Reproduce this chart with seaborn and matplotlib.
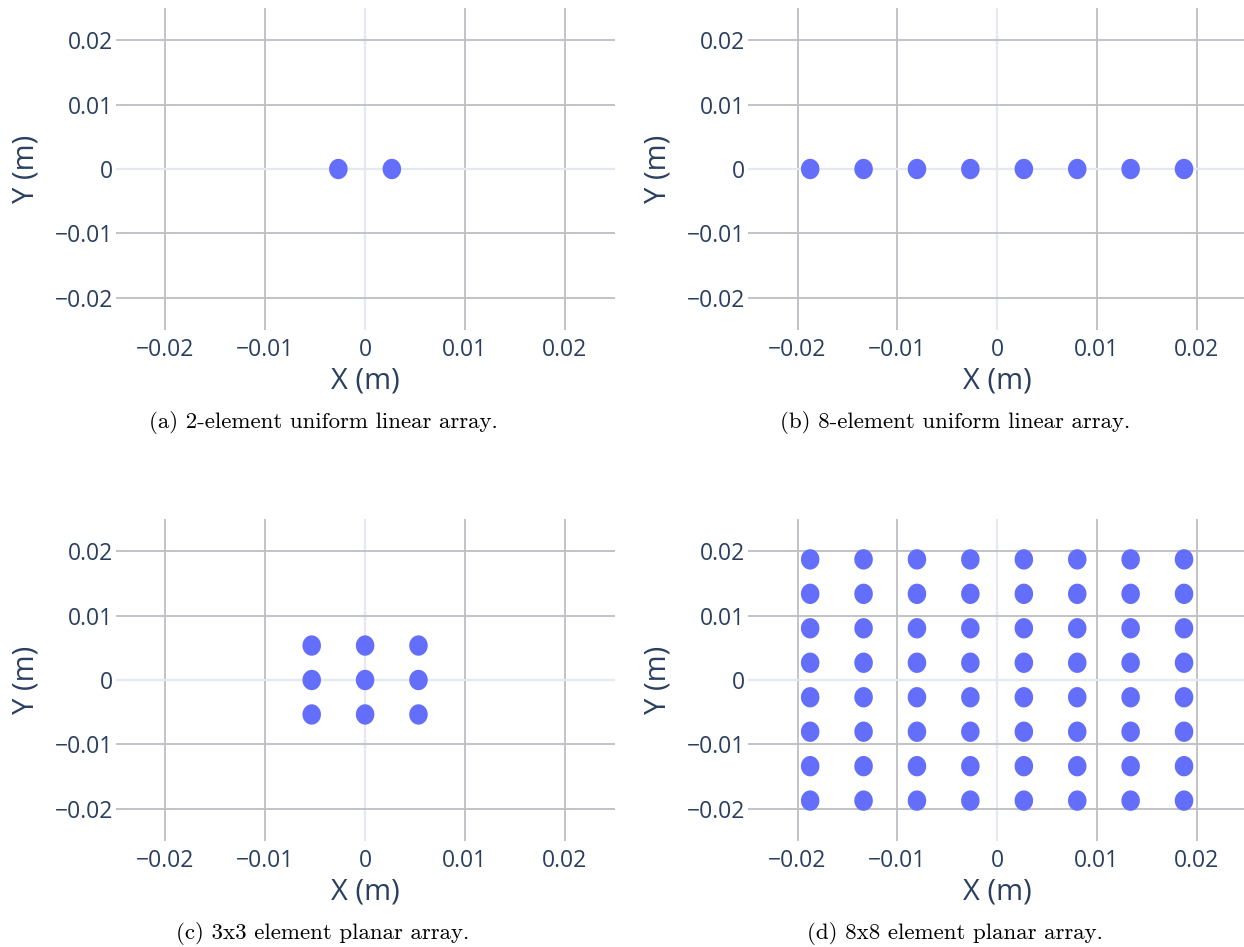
import numpy as np
import matplotlib
matplotlib.use("Agg")
import matplotlib.pyplot as plt
from matplotlib.path import Path
from matplotlib.ticker import FixedLocator, FixedFormatter
import seaborn as sns

# Element positions (metres)
ula2_x = [-0.00268, 0.00268]
ula2_y = [0.0, 0.0]
ula8_x = [-0.01873, -0.01338, -0.00803, -0.00268, 0.00268, 0.00803, 0.01338, 0.01873]
ula8_y = [0.0] * 8
upa3_coords = [-0.00535, 0.0, 0.00535]
upa8_coords = [-0.01873, -0.01338, -0.00803, -0.00268, 0.00268, 0.00803, 0.01338, 0.01873]

tick_values = [-0.02, -0.01, 0.0, 0.01, 0.02]
tick_labels = ["\u22120.02", "\u22120.01", "0", "0.01", "0.02"]

captions = [
    "(a) 2-element uniform linear array.",
    "(b) 8-element uniform linear array.",
    "(c) 3x3 element planar array.",
    "(d) 8x8 element planar array.",
]

gx3, gy3 = np.meshgrid(upa3_coords, upa3_coords)
gx8, gy8 = np.meshgrid(upa8_coords, upa8_coords)
layouts = [
    (np.asarray(ula2_x), np.asarray(ula2_y)),
    (np.asarray(ula8_x), np.asarray(ula8_y)),
    (gx3.ravel(), gy3.ravel()),
    (gx8.ravel(), gy8.ravel()),
]

sns.set_theme(style="white")
plt.rcParams["font.family"] = ["Open Sans", "DejaVu Sans"]

TEXT = "#2a3f5f"
DOT = "#636efa"
GRID = "#bdbec4"
ZERO = "#e3e8f1"

# slightly tall ellipse marker
t = np.linspace(0, 2 * np.pi, 73)
ellipse = Path(np.column_stack([np.cos(t), 1.1 * np.sin(t)]), closed=True)

W, H = 1244, 947
fig = plt.figure(figsize=(W / 100, H / 100), dpi=100)

ax_w, ax_h = 499, 322
origins = [(115.6, 8), (747.6, 8), (115.6, 519), (747.6, 519)]
ylabel_x = [26, 658, 26, 658]
caption_pos = [(323, 422), (955, 422), (323, 933), (955, 933)]

for i, ((x, y), (left, top)) in enumerate(zip(layouts, origins)):
    ax = fig.add_axes([left / W, 1 - (top + ax_h) / H, ax_w / W, ax_h / H])
    ax.set_axisbelow(True)
    sns.scatterplot(x=x, y=y, ax=ax, color=DOT, marker=ellipse, s=215,
                    linewidth=0, edgecolor="none", zorder=3)
    ax.set_xlim(-0.025, 0.025)
    ax.set_ylim(-0.025, 0.025)
    for axis in (ax.xaxis, ax.yaxis):
        axis.set_major_locator(FixedLocator(tick_values))
        axis.set_major_formatter(FixedFormatter(tick_labels))
    ax.grid(True, color=GRID, linewidth=1.3)
    for gl in (ax.get_xgridlines()[2], ax.get_ygridlines()[2]):
        gl.set_color(ZERO)
        gl.set_linewidth(1.6)
    for sp in ax.spines.values():
        sp.set_visible(False)
    ax.tick_params(axis="both", length=0, labelsize=16.5, labelcolor=TEXT)
    ax.tick_params(axis="x", pad=6)
    ax.tick_params(axis="y", pad=2)
    ax.set_xlabel("X (m)", fontsize=21, color=TEXT, va="center")
    ax.set_ylabel("Y (m)", fontsize=21, color=TEXT, va="center")
    ax.xaxis.set_label_coords(0.5, (ax_h - 373) / ax_h)
    ax.yaxis.set_label_coords((ylabel_x[i] - left) / ax_w, 0.5)
    cx, cy = caption_pos[i]
    fig.text(cx / W, 1 - cy / H, captions[i], ha="center", va="center",
             fontsize=16.5, family="cmr10", color="black")

fig.savefig("out.png", dpi=100)
